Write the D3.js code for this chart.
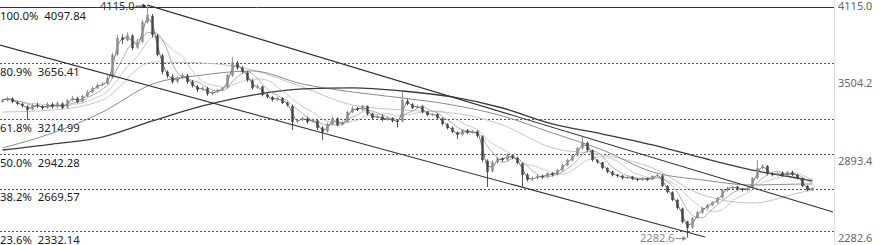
<!DOCTYPE html>
<html>
<head>
<meta charset="utf-8">
<script src="https://cdn.jsdelivr.net/npm/d3@7"></script>
<style>
  html, body { margin: 0; padding: 0; background: #fff; }
  svg { display: block; font-family: "Noto Sans", sans-serif; }
</style>
</head>
<body>
<svg id="chart" width="880" height="245"></svg>
<script>
// ---------- DATA ---------- //
// daily candles
const opens = [
  3350,3362,3380,3348,3338,3318,3292,3330,3318,3306,
  3334,3315,3340,3308,3365,3380,3354,3396,3428,3460,
  3484,3495,3545,3725,3860,3838,3875,3780,3826,3978,
  4030,3875,3718,3590,3552,3512,3538,3560,3512,3474,
  3448,3460,3416,3428,3448,3466,3560,3662,3622,3585,
  3522,3465,3474,3410,3390,3370,3380,3346,3320,3198,
  3212,3222,3197,3205,3150,3118,3175,3222,3172,3196,
  3270,3302,3290,3318,3260,3228,3238,3212,3222,3204,
  3200,3360,3334,3306,3318,3275,3250,3255,3222,3176,
  3148,3112,3094,3128,3110,3120,3080,2890,2805,2875,
  2908,2896,2930,2912,2868,2780,2740,2750,2770,2762,
  2790,2780,2812,2852,2890,2930,2985,3030,2970,2892,
  2876,2830,2802,2778,2770,2750,2762,2746,2740,2750,
  2740,2770,2772,2690,2640,2580,2512,2410,2362,2440,
  2480,2514,2538,2560,2598,2656,2672,2684,2668,2656,
  2676,2750,2828,2848,2786,2774,2794,2770,2798,2778,
  2750,2690,2656];
const highs = [
  3380,3395,3388,3360,3345,3325,3340,3345,3328,3350,
  3345,3360,3348,3378,3400,3392,3410,3445,3475,3500,
  3510,3560,3740,3880,3885,3900,3885,3850,4000,4115,
  4045,3890,3730,3600,3570,3555,3580,3575,3525,3485,
  3475,3470,3440,3455,3470,3575,3706,3675,3635,3595,
  3530,3490,3480,3420,3400,3395,3390,3355,3330,3222,
  3235,3235,3220,3215,3160,3190,3238,3230,3205,3282,
  3318,3312,3330,3325,3268,3252,3250,3235,3232,3212,
  3430,3375,3342,3330,3325,3282,3265,3262,3230,3185,
  3158,3120,3140,3138,3130,3128,3088,2900,2890,2920,
  2915,2945,2940,2920,2875,2790,2765,2780,2780,2800,
  2798,2825,2865,2905,2935,2995,3075,3040,2978,2900,
  2880,2838,2810,2785,2776,2770,2768,2750,2760,2756,
  2775,2790,2778,2695,2648,2585,2520,2415,2445,2492,
  2525,2550,2570,2605,2665,2685,2692,2692,2675,2680,
  2760,2894,2862,2852,2795,2800,2805,2808,2810,2785,
  2755,2695,2680];
const lows = [
  3345,3355,3342,3325,3305,3209,3285,3305,3290,3298,
  3300,3305,3295,3300,3355,3340,3345,3390,3420,3452,
  3475,3488,3535,3715,3810,3830,3760,3770,3815,3970,
  3860,3710,3570,3540,3495,3500,3530,3495,3465,3430,
  3440,3400,3405,3420,3440,3455,3550,3605,3575,3510,
  3450,3455,3395,3380,3355,3360,3335,3315,3131,3185,
  3200,3180,3190,3130,3052,3110,3165,3160,3165,3185,
  3262,3280,3282,3245,3215,3220,3200,3205,3190,3150,
  3190,3325,3295,3300,3262,3240,3240,3215,3165,3135,
  3105,3060,3085,3100,3100,3070,2880,2681,2795,2865,
  2880,2885,2900,2860,2681,2725,2730,2740,2745,2750,
  2765,2770,2805,2845,2880,2920,2975,2960,2880,2865,
  2820,2790,2765,2755,2740,2745,2735,2725,2730,2728,
  2735,2760,2680,2630,2570,2505,2395,2282.6,2350,2430,
  2470,2505,2530,2550,2590,2645,2665,2655,2645,2648,
  2668,2745,2820,2775,2765,2765,2760,2765,2768,2740,
  2680,2648,2650];
const closes = [
  3367,3383,3351,3336,3320,3288,3328,3320,3304,3336,
  3312,3343,3304,3367,3383,3351,3399,3430,3462,3485,
  3493,3540,3722,3856,3840,3879,3777,3824,3982,4037,
  3879,3722,3588,3556,3509,3540,3564,3509,3477,3446,
  3462,3414,3430,3446,3462,3564,3666,3619,3588,3525,
  3462,3477,3406,3391,3367,3383,3343,3328,3194,3209,
  3225,3194,3209,3146,3115,3178,3225,3170,3194,3272,
  3304,3288,3320,3257,3225,3241,3209,3225,3202,3194,
  3367,3336,3304,3320,3272,3249,3257,3225,3178,3146,
  3115,3091,3131,3107,3123,3083,2894,2800,2878,2910,
  2894,2934,2910,2871,2776,2737,2752,2768,2760,2792,
  2776,2815,2855,2894,2926,2989,3036,2973,2894,2878,
  2831,2800,2776,2768,2752,2760,2744,2737,2752,2737,
  2768,2776,2689,2642,2579,2516,2406,2358,2437,2484,
  2516,2540,2563,2595,2658,2674,2681,2666,2658,2674,
  2752,2831,2847,2784,2776,2792,2768,2800,2776,2752,
  2689,2658,2674];

// long moving averages, read at every 10th candle
const maIdx  = [0,10,20,30,40,50,60,70,80,90,100,110,120,130,140,150,160,162];
const ma60   = [3272,3288,3367,3666,3659,3603,3469,3328,3288,3265,3170,2989,2934,2831,2619,2555,2642,2658];
const ma120  = [2989,3107,3272,3493,3564,3596,3493,3430,3383,3328,3241,3107,2973,2800,2737,2697,2705,2705];
const ma250  = [2973,3020,3075,3202,3320,3406,3454,3462,3438,3391,3304,3178,3099,3013,2910,2815,2744,2729];

// fibonacci retracement levels
const fibPct = ['100.0%', '80.9%', '61.8%', '50.0%', '38.2%', '23.6%'];
const fibVal = [4097.84, 3656.41, 3214.99, 2942.28, 2669.57, 2332.14];

// right axis ticks
const axisTicks = [4115.0, 3504.2, 2893.4, 2282.6];

// drawn trend lines: [candle index, price]
const channelLow  = [[-0.5, 3800], [140.5, 2287]];
const channelHigh = [[29, 4115], [166.1, 2484]];

// extremes
const hiIdx = 29, hiVal = 4115.0;
const loIdx = 137, loVal = 2282.6;

// ---------- CHART ---------- //
const svg = d3.select('#chart');
const plotRight = 834;

const y = d3.scaleLinear().domain([2282.6, 4115]).range([237.6, 5.1]);
const x = d3.scaleLinear().domain([0, closes.length - 1]).range([2.5, 812.5]);
const bw = 2.4;

svg.append('defs').append('clipPath').attr('id', 'plot')
  .append('rect').attr('x', 0).attr('y', 0).attr('width', plotRight).attr('height', 245);

// right axis
svg.append('line')
  .attr('x1', plotRight + 0.5).attr('x2', plotRight + 0.5)
  .attr('y1', 0).attr('y2', 245)
  .attr('stroke', '#ddd');

svg.append('g').selectAll('text')
  .data(axisTicks)
  .join('text')
  .attr('x', plotRight + 4)
  .attr('y', d => y(d) + 4.5)
  .attr('font-size', 11)
  .attr('fill', '#666')
  .text(d => d.toFixed(1));

// fib levels
const fib = svg.append('g');
fib.selectAll('line')
  .data(fibVal)
  .join('line')
  .attr('x1', 0).attr('x2', plotRight)
  .attr('y1', d => Math.round(y(d)) + 0.5)
  .attr('y2', d => Math.round(y(d)) + 0.5)
  .attr('stroke', (d, i) => i === 0 ? '#333' : '#555')
  .attr('stroke-dasharray', (d, i) => i === 0 ? null : '2,2');

const fibText = fib.selectAll('text')
  .data(fibVal)
  .join('text')
  .attr('x', 0)
  .attr('y', d => y(d) + 12.7)
  .attr('font-size', 11.3)
  .attr('fill', '#1a1a1a');
fibText.append('tspan').text((d, i) => fibPct[i]);
fibText.append('tspan').attr('dx', 6).text(d => d.toFixed(2));

const g = svg.append('g').attr('clip-path', 'url(#plot)');

// moving averages
function sma(arr, n) {
  return arr.map((d, i) => d3.mean(arr.slice(Math.max(0, i - n + 1), i + 1)));
}
const idxLine = d3.line().x(d => x(d[0])).y(d => y(d[1])).curve(d3.curveMonotoneX);

const maLines = [
  {pts: maIdx.map((d, i) => [d, ma60[i]]),  color: '#c4c4c4', w: 1},
  {pts: maIdx.map((d, i) => [d, ma120[i]]), color: '#8c8c8c', w: 1},
  {pts: maIdx.map((d, i) => [d, ma250[i]]), color: '#3a3a3a', w: 1.3},
  {pts: sma(closes, 9).map((d, i) => [i, d]), color: '#bdbdbd', w: 0.8},
  {pts: sma(closes, 5).map((d, i) => [i, d]), color: '#999', w: 0.8},
  {pts: sma(closes, 2).map((d, i) => [i, d]), color: '#555', w: 0.8}
];

g.selectAll('path.ma')
  .data(maLines)
  .join('path')
  .attr('class', 'ma')
  .attr('fill', 'none')
  .attr('stroke', d => d.color)
  .attr('stroke-width', d => d.w)
  .attr('d', d => idxLine(d.pts));

// candles
const candles = g.append('g').selectAll('g')
  .data(closes.map((c, i) => ({i, o: opens[i], h: highs[i], l: lows[i], c})))
  .join('g')
  .attr('fill', d => d.c >= d.o ? '#8c8c8c' : '#444')
  .attr('stroke', d => d.c >= d.o ? '#8c8c8c' : '#444');

candles.append('line')
  .attr('x1', d => x(d.i)).attr('x2', d => x(d.i))
  .attr('y1', d => y(d.h)).attr('y2', d => y(d.l))
  .attr('stroke-width', 0.9);

candles.append('rect')
  .attr('x', d => x(d.i) - bw / 2)
  .attr('width', bw)
  .attr('y', d => y(Math.max(d.o, d.c)))
  .attr('height', d => Math.max(0.8, Math.abs(y(d.o) - y(d.c))))
  .attr('stroke', 'none');

// trend lines
g.selectAll('path.trend')
  .data([channelLow, channelHigh])
  .join('path')
  .attr('class', 'trend')
  .attr('fill', 'none')
  .attr('stroke', '#333')
  .attr('stroke-width', 1.1)
  .attr('d', d3.line().x(d => x(d[0])).y(d => y(d[1])));

// high / low markers
function marker(i, v, color, dy) {
  const tx = x(i) - 13;
  const ay = y(v) + 1;
  svg.append('text')
    .attr('x', tx).attr('y', y(v) + dy)
    .attr('text-anchor', 'end')
    .attr('font-size', 11)
    .attr('fill', color)
    .text(v.toFixed(1));
  svg.append('line')
    .attr('x1', tx + 1).attr('x2', x(i) - 2)
    .attr('y1', ay).attr('y2', ay)
    .attr('stroke', color);
  svg.append('path')
    .attr('d', `M${x(i) - 1},${ay} l-4,-2.5 v5 z`)
    .attr('fill', color);
}
marker(hiIdx, hiVal, '#333', 5);
marker(loIdx, loVal, '#888', 4.5);
</script>
</body>
</html>
